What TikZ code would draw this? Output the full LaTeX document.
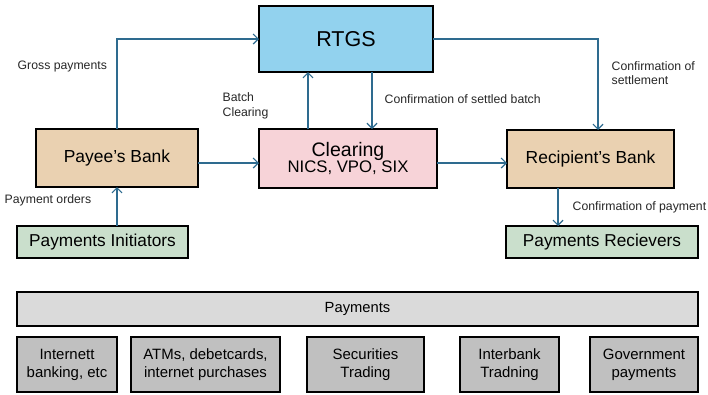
\documentclass[tikz,border=0pt]{standalone}
\usepackage{fontspec}
\setmainfont{Liberation Sans}
\usetikzlibrary{arrows.meta}
\definecolor{rtgsblue}{HTML}{92D2EE}
\definecolor{clearpink}{HTML}{F7D3D8}
\definecolor{banktan}{HTML}{EAD1B1}
\definecolor{partgreen}{HTML}{CADFCC}
\definecolor{barg}{HTML}{DADADA}
\definecolor{boxg}{HTML}{C0C0C0}
\definecolor{arrblue}{HTML}{2E6B8F}
\tikzset{
  box/.style={draw=black, line width=2.2bp, inner sep=0pt, outer sep=0pt, align=center, text=black},
  arr/.style={draw=arrblue, line width=1.2bp, -{Straight Barb[length=5bp,width=10bp]}},
  lbl/.style={inner sep=0pt, anchor=west, align=left, font=\fontsize{12.3}{14.5}\selectfont, text=black!85}
}
\begin{document}
\begin{tikzpicture}[x=1bp,y=-1bp]
\useasboundingbox (0,0) rectangle (708,394);
% main nodes
\node[box, fill=rtgsblue, minimum width=174bp, minimum height=66bp, font=\fontsize{21.6}{24}\selectfont] (rtgs) at (346,39) {RTGS};
\node[box, fill=clearpink, minimum width=178bp, minimum height=59bp] (clearing) at (348,158.5)
  {{\fontsize{19.6}{21}\selectfont Clearing}\\[-1bp]{\fontsize{16.8}{18}\selectfont NICS, VPO, SIX}};
\node[box, fill=banktan, minimum width=162bp, minimum height=58bp, font=\fontsize{17.5}{20}\selectfont] (payee) at (117,158) {Payee’s Bank};
\node[box, fill=banktan, minimum width=167bp, minimum height=58bp, font=\fontsize{17.5}{20}\selectfont] (recip) at (590.5,159) {Recipient’s Bank};
\node[box, fill=partgreen, minimum width=171bp, minimum height=32bp, font=\fontsize{17.3}{20}\selectfont] (init) at (102.5,242) {Payments Initiators};
\node[box, fill=partgreen, minimum width=192bp, minimum height=32bp, font=\fontsize{17.3}{20}\selectfont] (recv) at (602,242) {Payments Recievers};
% payments
\node[box, fill=barg, minimum width=681bp, minimum height=34bp, font=\fontsize{14.8}{17}\selectfont] (pay) at (357.5,309) {Payments};
\tikzset{bot/.style={box, fill=boxg, minimum height=55bp, font=\fontsize{15}{18}\selectfont}}
\node[bot, minimum width=100bp] (b1) at (67,364.5) {Internett\\banking, etc};
\node[bot, minimum width=149bp] (b2) at (205.5,364.5) {ATMs, debetcards,\\internet purchases};
\node[bot, minimum width=117bp] (b3) at (365.5,364.5) {Securities\\Trading};
\node[bot, minimum width=99bp] (b4) at (509.5,364.5) {Interbank\\Tradning};
\node[bot, minimum width=108bp] (b5) at (644,364.5) {Government\\payments};
% connectors
\draw[arr] (payee.north) |- (rtgs.west);
\draw[arr] ([xshift=-40bp]clearing.north) -- ([xshift=-40bp]clearing.north |- rtgs.south);
\draw[arr] ([xshift=26bp]rtgs.south) -- ([xshift=26bp]rtgs.south |- clearing.north);
\coordinate (setc) at (598,39);
\draw[arr] (rtgs.east) -- (setc) -- (setc |- recip.north);
\draw[arr] ([yshift=-5bp]payee.east) -- ([yshift=-5bp]payee.east -| clearing.west);
\draw[arr] ([yshift=-4.5bp]clearing.east) -- ([yshift=-4.5bp]clearing.east -| recip.west);
\coordinate (payc) at (558,0);
\draw[arr] (payc |- recip.south) -- (payc |- recv.north);
\draw[arr] (payee.south |- init.north) -- (payee.south);
% labels
\node[lbl] (lgross) at (17.5,66) {Gross payments};
\node[lbl] (lbatch) at (222.5,106) {Batch\\Clearing};
\node[lbl] (lsettled) at (384.5,99) {Confirmation of settled batch};
\node[lbl] (lsettle) at (611.5,73) {Confirmation of\\settlement};
\node[lbl] (lconfpay) at (572.5,207) {Confirmation of payment};
\node[lbl] (lorders) at (4.5,200.5) {Payment orders};
\end{tikzpicture}
\end{document}
